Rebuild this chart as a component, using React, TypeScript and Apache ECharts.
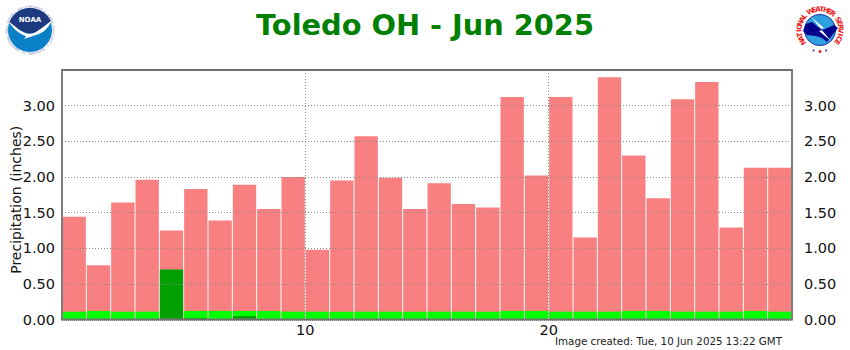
import React, { useEffect, useRef } from "react";
import * as echarts from "echarts";

const days = ["1", "2", "3", "4", "5", "6", "7", "8", "9", "10", "11", "12", "13", "14", "15", "16", "17", "18", "19", "20", "21", "22", "23", "24", "25", "26", "27", "28", "29", "30"];
const normalTop = [1.44, 0.76, 1.64, 1.96, 1.25, 1.83, 1.39, 1.89, 1.55, 2.0, 0.98, 1.95, 2.57, 1.99, 1.55, 1.91, 1.62, 1.57, 3.12, 2.02, 3.12, 1.15, 3.4, 2.3, 1.7, 3.09, 3.33, 1.29, 2.13, 2.13];
const lowBand = [0.11, 0.12, 0.11, 0.11, 0.11, 0.12, 0.12, 0.12, 0.12, 0.11, 0.11, 0.11, 0.11, 0.11, 0.11, 0.11, 0.11, 0.11, 0.12, 0.12, 0.11, 0.11, 0.11, 0.12, 0.12, 0.11, 0.11, 0.11, 0.12, 0.11];
const observed = [0, 0, 0, 0, 0.7, 0.02, 0, 0.05, 0, 0, 0, 0, 0, 0, 0, 0, 0, 0, 0, 0, 0, 0, 0, 0, 0, 0, 0, 0, 0, 0];
const yTicks = [0, 0.5, 1, 1.5, 2, 2.5, 3];
const title = "Toledo OH - Jun 2025";
const stamp = "Image created: Tue, 10 Jun 2025 13:22 GMT";
const nwsTop = "NATIONAL WEATHER SERVICE";
const noaaRing = "NATIONAL OCEANIC AND ATMOSPHERIC ADMINISTRATION";
const noaaRingBottom = "U.S. DEPARTMENT OF COMMERCE";

const FONT = "DejaVu Sans";

echarts.graphic.registerShape("noaaDark", echarts.graphic.extendPath("M9 23C13 13 21 8 30 8C39 8 47 13 51 21C44 27 38 32 31 34C23 32 16 28 9 23Z", {}));
echarts.graphic.registerShape("noaaBird", echarts.graphic.extendPath("M8 21C15 26 20 31 25 33C30 35 35 33 39 30C44 27 48 23 52 20C49 27 44 33 36 35L24 39C27 36 26 36 23 35C17 32 12 27 8 21Z", {}));
echarts.graphic.registerShape("nwsLand", echarts.graphic.extendPath("M803 31L806 24L812 22L818 27L823 30L834 25L838 28L834 33L830 38L827 42L822 38L816 36L807 35Z", {}));
echarts.graphic.registerShape("nwsBolt", echarts.graphic.extendPath("M811 17L824 28L821 29L831 41L819 31L822 30Z", {}));

function ringLetters(text: string, cx: number, cy: number, r: number, start: number, end: number, fontSize: number, fill: string, weight: string, flip: boolean) {
  const n = text.length;
  return text.split("").map((ch, i) => {
    const deg = start + ((end - start) * i) / (n - 1);
    const rad = (deg * Math.PI) / 180;
    return {
      type: "text",
      x: cx + r * Math.sin(rad),
      y: cy - r * Math.cos(rad),
      rotation: (-(flip ? deg + 180 : deg) * Math.PI) / 180,
      style: { text: ch, fill, font: `${weight} ${fontSize}px "${FONT}"`, align: "center", verticalAlign: "middle" },
    };
  });
}

export default function App() {
  const ref = useRef<HTMLDivElement>(null);
  useEffect(() => {
    document.body.style.margin = "0";
    const chart = echarts.init(ref.current!, null, { renderer: "svg" });
    const yAxisBase = {
      type: "value",
      min: 0,
      max: 3.5,
      interval: 0.5,
      axisTick: { show: false },
      axisLine: { show: false },
      axisLabel: {
        color: "#111111",
        fontFamily: FONT,
        fontSize: 14.5,
        margin: 7,
        formatter: (v: number) => (yTicks.includes(v) ? v.toFixed(2) : ""),
      },
    };
    const barBase = { type: "bar", barWidth: "96%", barGap: "-100%", xAxisIndex: 0, yAxisIndex: 0, silent: true };
    chart.setOption({
      animation: false,
      backgroundColor: "#ffffff",
      title: {
        text: title,
        left: 420,
        top: 5,
        textAlign: "center",
        textStyle: { color: "#008000", fontFamily: FONT, fontWeight: "bold", fontSize: 28.8 },
      },
      grid: { left: 62, right: 58, top: 70, bottom: 30.5, outerBoundsMode: "none" },
      xAxis: [
        { type: "category", data: days, show: false },
        {
          type: "value",
          position: "bottom",
          min: 0,
          max: 30,
          interval: 10,
          z: 6,
          axisTick: { show: false },
          axisLine: { show: false },
          splitLine: { show: true, lineStyle: { color: "#8a8a8a", type: [1, 2], width: 1 } },
          axisLabel: {
            color: "#111111",
            fontFamily: FONT,
            fontSize: 14.5,
            margin: 3,
            formatter: (v: number) => (v === 0 || v === 30 ? "" : String(v)),
          },
        },
      ],
      yAxis: [
        {
          ...yAxisBase,
          position: "left",
          z: 6,
          name: "Precipitation (inches)",
          nameLocation: "middle",
          nameGap: 39,
          nameMoveOverlap: false,
          nameTextStyle: { color: "#111111", fontFamily: FONT, fontSize: 14, padding: [0, 10, 0, 0] },
          splitLine: { show: true, lineStyle: { color: "#8a8a8a", type: [1, 2], width: 1 } },
        },
        { ...yAxisBase, position: "right", splitLine: { show: false }, axisLabel: { ...yAxisBase.axisLabel, margin: 12 } },
      ],
      series: [
        { ...barBase, name: "Normal", data: normalTop, itemStyle: { color: "#f98080" } },
        { ...barBase, name: "Low", data: lowBand, itemStyle: { color: "#00ff00" } },
        { ...barBase, name: "Observed", data: observed, itemStyle: { color: "#00a000" } },
      ],
      graphic: [
        {
          type: "group",
          silent: true,
          children: [
            { type: "rect", z: 20, shape: { x: 62, y: 70, width: 730, height: 249.5 }, style: { fill: "none", stroke: "#7c7c7c", lineWidth: 2 } },
            { type: "line", z: 21, shape: { x1: 62, y1: 70, x2: 792, y2: 70 }, style: { stroke: "#444444", lineWidth: 1, lineDash: [1, 1] } },
            { type: "line", z: 21, shape: { x1: 62, y1: 320, x2: 792, y2: 320 }, style: { stroke: "#444444", lineWidth: 1, lineDash: [1, 1] } },
            { type: "text", x: 555, y: 336, style: { text: stamp, fill: "#222222", font: `10.3px "${FONT}"` } },

            { type: "circle", shape: { cx: 30, cy: 30, r: 22 }, style: { fill: "#0a80c8" } },
            { type: "noaaDark", style: { fill: "#1d3a80" } },
            { type: "noaaBird", style: { fill: "#ffffff" } },
            { type: "text", x: 30, y: 19.5, style: { text: "NOAA", fill: "#ffffff", font: `bold 7px "${FONT}"`, align: "center", verticalAlign: "middle" } },
            ...ringLetters(noaaRing, 30, 30, 23.5, -115, 115, 3, "#7f8bb5", "normal", false),
            ...ringLetters(noaaRingBottom, 30, 30, 23.5, 122, 238, 3, "#7f8bb5", "normal", true).reverse(),

            { type: "circle", shape: { cx: 820, cy: 30, r: 15.5 }, style: { fill: "#2f9fe0", stroke: "#1a2fa0", lineWidth: 1 } },
            { type: "nwsLand", style: { fill: "#00008c" } },
            { type: "nwsBolt", style: { fill: "#ffffff" } },
            { type: "circle", shape: { cx: 813.5, cy: 50.5, r: 1 }, style: { fill: "#3040d0" } },
            { type: "circle", shape: { cx: 826, cy: 50.5, r: 1 }, style: { fill: "#3040d0" } },
            { type: "circle", shape: { cx: 820, cy: 51.5, r: 1.5 }, style: { fill: "#ee2020" } },
            ...ringLetters(nwsTop, 820, 30, 20.5, -125, 125, 7, "#ee2020", "bold", false),
          ],
        },
      ],
    });
    return () => chart.dispose();
  }, []);
  return <div ref={ref} style={{ width: 850, height: 350 }} />;
}
